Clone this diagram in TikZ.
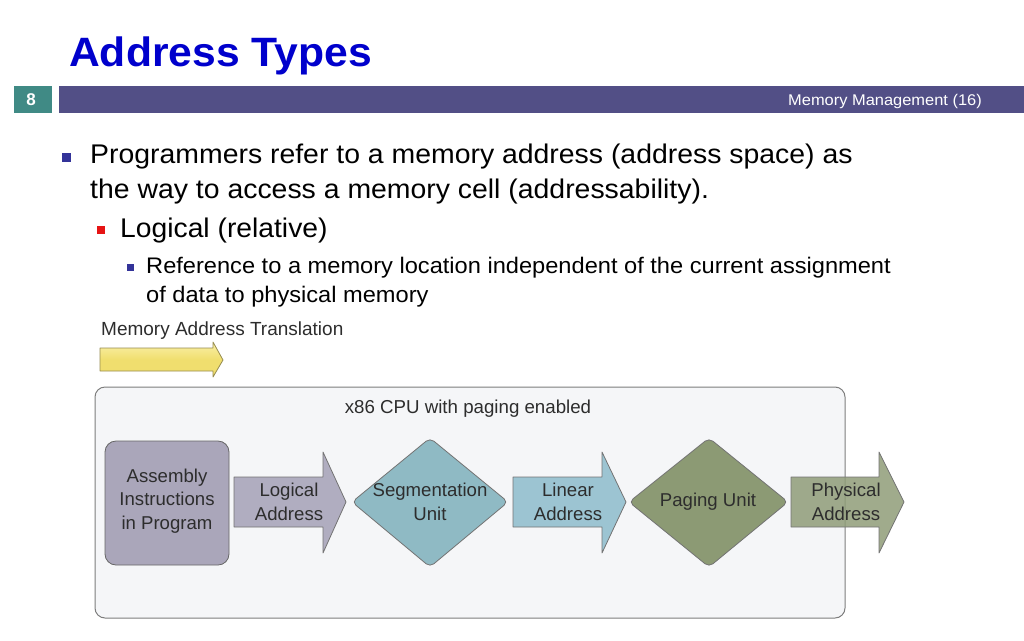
\documentclass[tikz,border=0pt]{standalone}
\usepackage{fontspec}
\setmainfont{Liberation Sans}
\usetikzlibrary{shapes.geometric}
\definecolor{titleblue}{RGB}{0,0,204}
\definecolor{barteal}{RGB}{64,138,133}
\definecolor{barpurple}{RGB}{82,79,134}
\definecolor{bulblue}{RGB}{51,51,153}
\definecolor{bulred}{RGB}{230,20,20}
\definecolor{dtext}{RGB}{45,45,45}
\definecolor{boxfill}{RGB}{245,246,248}
\definecolor{boxline}{RGB}{125,125,125}
\definecolor{asmfill}{RGB}{170,166,186}
\definecolor{logfill}{RGB}{176,173,192}
\definecolor{segfill}{RGB}{143,186,196}
\definecolor{linfill}{RGB}{156,196,210}
\definecolor{pagfill}{RGB}{140,154,116}
\definecolor{phyfill}{RGB}{143,156,120}
\definecolor{yelfill}{RGB}{240,222,110}
\definecolor{yeltop}{RGB}{250,240,170}
\definecolor{yelline}{RGB}{150,140,80}
\tikzset{
  fs/.style={font=\fontsize{#1}{#1}\selectfont},
  dlabel/.style={text=dtext, align=center, font=\fontsize{18.6}{23.5}\selectfont},
  blockarrow/.style={draw=black!55, line width=0.8pt, line join=round},
  bul/.style={fill=bulblue, draw=none},
}
\begin{document}
\begin{tikzpicture}[x=1pt,y=-1pt]
\useasboundingbox (0,0) rectangle (1024,640);
% title
\node[anchor=base west, inner sep=0, text=titleblue, font=\bfseries\fontsize{41}{41}\selectfont] (title) at (69,66) {\scalebox{1.04}[1]{Address Types}};
% header bar
\fill[barteal] (14,86) rectangle (52,113);
\node[text=white, font=\bfseries\fontsize{17}{17}\selectfont] (num) at (31,99.5) {8};
\fill[barpurple] (59,86) rectangle (1024,113);
\node[anchor=base east, inner sep=0, text=white, fs=15.5] (hdr) at (982,105) {\scalebox{1.06}[1]{Memory Management (16)}};
% bullets
\fill[bul] (62,153) rectangle (71,162);
\node[anchor=base west, inner sep=0, fs=27] (b1) at (90,163) {\scalebox{1.052}[1]{Programmers refer to a memory address (address space) as}};
\node[anchor=base west, inner sep=0, fs=27] (b1b) at (90,198) {\scalebox{1.052}[1]{the way to access a memory cell (addressability).}};
\fill[bulred] (97,226) rectangle (105,234);
\node[anchor=base west, inner sep=0, fs=27] (b2) at (120,237) {\scalebox{1.047}[1]{Logical (relative)}};
\fill[bul] (127,264) rectangle (134,271);
\node[anchor=base west, inner sep=0, fs=22.5] (b3) at (146,273) {\scalebox{1.05}[1]{Reference to a memory location independent of the current assignment}};
\node[anchor=base west, inner sep=0, fs=22.5] (b3b) at (146,302) {\scalebox{1.05}[1]{of data to physical memory}};
% memory address translation
\node[anchor=west, inner sep=0, text=dtext, font=\fontsize{19}{19}\selectfont] (mat) at (101,331) {Memory Address Translation};
\draw[draw=yelline, top color=yeltop, bottom color=yelfill, middle color=yelfill, line width=0.8pt, line join=round]
  (100,348) -- (213,348) -- (213,342) -- (223,360) -- (213,377) -- (213,371) -- (100,371) -- cycle;
% big box
\draw[draw=boxline, fill=boxfill, line width=1pt, rounded corners=10] (95,387) rectangle (845,618);
\node[text=dtext, font=\fontsize{18.7}{18.7}\selectfont] (cpu) at (468,409) {x86 CPU with paging enabled};
% assembly box
\draw[draw=black!60, fill=asmfill, line width=0.8pt, rounded corners=11] (105,441) rectangle (229,565);
\node[dlabel] (asm) at (167,501) {Assembly\\Instructions\\in Program};
% logical address arrow
\draw[blockarrow, fill=logfill] (234,477) -- (323,477) -- (323,452) -- (346,502) -- (323,553) -- (323,527) -- (234,527) -- cycle;
\node[dlabel] (log) at (289,502) {Logical\\Address};
% segmentation diamond
\draw[blockarrow, fill=segfill, rounded corners=5] (352,502) -- (430,438) -- (508,502) -- (430,567) -- cycle;
\node[dlabel] (seg) at (430,502) {Segmentation\\Unit};
% linear address arrow
\draw[blockarrow, fill=linfill] (513,477) -- (602,477) -- (602,452) -- (626,502) -- (602,553) -- (602,527) -- (513,527) -- cycle;
\node[dlabel] (lin) at (568,502) {Linear\\Address};
% paging diamond
\draw[blockarrow, fill=pagfill, rounded corners=5] (629,502) -- (709,438) -- (788,502) -- (709,567) -- cycle;
\node[dlabel] (pag) at (708,502) {Paging Unit};
% physical address arrow
\draw[blockarrow, fill=phyfill, fill opacity=0.85] (791,477) -- (879,477) -- (879,452) -- (904,502) -- (879,553) -- (879,527) -- (791,527) -- cycle;
\node[dlabel] (phy) at (846,502) {Physical\\Address};
\end{tikzpicture}
\end{document}
